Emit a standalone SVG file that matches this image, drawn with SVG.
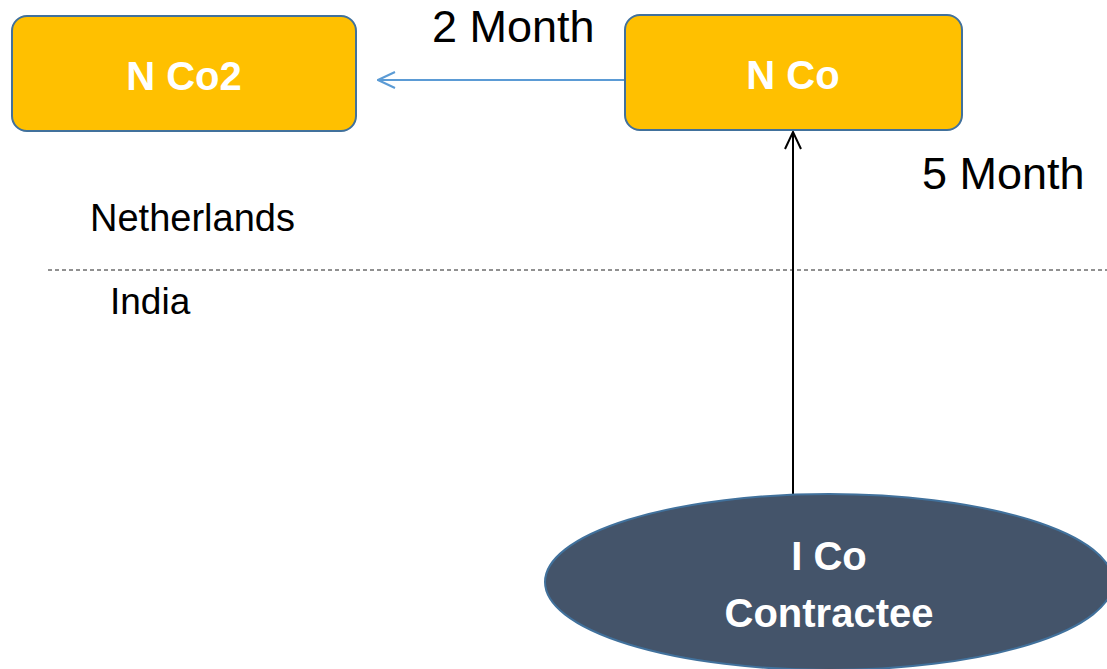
<svg xmlns="http://www.w3.org/2000/svg" width="1107" height="669" viewBox="0 0 1107 669">
<style>
.box{fill:#FFC000;stroke:#41719C;stroke-width:2}
.ell{fill:#44546A;stroke:#41719C;stroke-width:2}
.nt{font-family:"Liberation Sans",Arial,sans-serif;font-weight:bold;fill:#fff;font-size:40px;text-anchor:middle}
.lb{font-family:"Liberation Sans",Arial,sans-serif;fill:#000}
</style>
<defs>
<marker id="ab" viewBox="0 0 20 20" refX="19" refY="10" markerWidth="20" markerHeight="20" markerUnits="userSpaceOnUse" orient="auto">
<path d="M2,2 L19,10 L2,18" fill="none" stroke="#5B9BD5" stroke-width="2"/>
</marker>
<marker id="ak" viewBox="0 0 20 20" refX="19" refY="10" markerWidth="20" markerHeight="20" markerUnits="userSpaceOnUse" orient="auto">
<path d="M2,2 L19,10 L2,18" fill="none" stroke="#000" stroke-width="2"/>
</marker>
</defs>
<rect width="1107" height="669" fill="#fff"/>
<line x1="48" y1="270" x2="1107" y2="270" stroke="#222" stroke-width="1" stroke-dasharray="4,3"/>
<text class="lb" x="90" y="231" font-size="38">Netherlands</text>
<text class="lb" x="110" y="314" font-size="37">India</text>
<text class="lb" x="432" y="42" font-size="45">2 Month</text>
<text class="lb" x="922" y="189" font-size="45">5 Month</text>
<g id="connectors">
<line x1="624" y1="80" x2="378" y2="80" stroke="#5B9BD5" stroke-width="2" marker-end="url(#ab)"/>
<line x1="793" y1="494" x2="793" y2="132" stroke="#000" stroke-width="2" marker-end="url(#ak)"/>
</g>
<g id="nco2">
<rect class="box" x="12" y="16" width="344" height="115" rx="15"/>
<text class="nt" x="184" y="90">N Co2</text>
</g>
<g id="nco">
<rect class="box" x="625" y="15" width="337" height="115" rx="15"/>
<text class="nt" x="793" y="89">N Co</text>
</g>
<g id="ico">
<ellipse class="ell" cx="829" cy="582" rx="284" ry="88"/>
<text class="nt" x="829" y="570">I Co</text>
<text class="nt" x="829" y="627">Contractee</text>
</g>
</svg>
